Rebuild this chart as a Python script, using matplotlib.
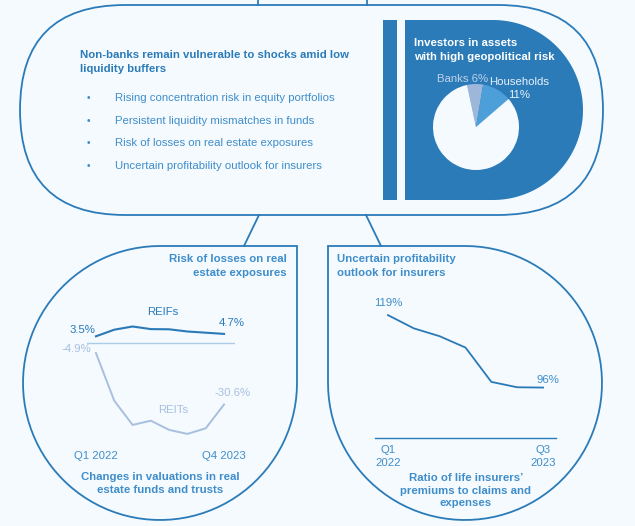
import numpy as np
import matplotlib.pyplot as plt
from matplotlib.patches import FancyBboxPatch, Polygon, Rectangle

plt.rcParams["font.family"] = ["Liberation Sans", "DejaVu Sans"]

W, H, DPI = 635, 526, 100

BG = "#f4fafe"
BLUE = "#2b7bb9"
TEXT = "#3f8dca"
LIGHT = "#a8bfdf"
ZERO = "#a9cce8"
FS = 8.2

# --- data -----------------------------------------------------------------
title_main = "Non-banks remain vulnerable to shocks amid low\nliquidity buffers"
bullets = [
    "Rising concentration risk in equity portfolios",
    "Persistent liquidity mismatches in funds",
    "Risk of losses on real estate exposures",
    "Uncertain profitability outlook for insurers",
]

pie_labels = ["Banks", "Households", "Non-banks"]
pie_shares = [6, 11, 83]
pie_colors = ["#9db7da", "#4c9fd9", "#f4fafe"]

re_quarters = ["Q1 2022", "Q2 2022", "Q3 2022", "Q4 2022",
               "Q1 2023", "Q2 2023", "Q3 2023", "Q4 2023"]
reifs = [3.5, 6.8, 8.4, 7.1, 7.0, 5.9, 5.3, 4.7]
reits = [-4.9, -28.7, -40.8, -38.7, -43.3, -45.3, -42.5, -30.6]

ins_quarters = ["Q1\n2022", "Q2\n2022", "Q3\n2022", "Q4\n2022",
                "Q1\n2023", "Q2\n2023", "Q3\n2023"]
premium_ratio = [119, 114.8, 112.3, 108.7, 97.8, 96.1, 96.0]

fig = plt.figure(figsize=(W / DPI, H / DPI), dpi=DPI, facecolor=BG)
bg = fig.add_axes([0, 0, 1, 1])
bg.set_xlim(0, W)
bg.set_ylim(H, 0)
bg.axis("off")


def px_axes(x0, y0, x1, y1):
    """Axes placed by pixel box (top-down pixel coords)."""
    ax = fig.add_axes([x0 / W, 1 - y1 / H, (x1 - x0) / W, (y1 - y0) / H])
    ax.patch.set_alpha(0)
    return ax


def arc(cx, cy, r, a0, a1, n=80):
    t = np.radians(np.linspace(a0, a1, n))
    return np.column_stack([cx + r * np.cos(t), cy + r * np.sin(t)])


# --- outlines ---------------------------------------------------------------
lw = 1.3
bg.add_patch(FancyBboxPatch((20, 5), 583, 210, boxstyle="round,pad=0,rounding_size=105",
                            fc="none", ec=BLUE, lw=lw))
for x in (258, 367):
    bg.plot([x, x], [0, 5], color=BLUE, lw=lw)
bg.plot([259, 244], [215, 246], color=BLUE, lw=lw)
bg.plot([366, 381], [215, 246], color=BLUE, lw=lw)

left_shape = np.vstack([[[160, 246], [297, 246]], arc(160, 383, 137, 0, 270)])
bg.add_patch(Polygon(left_shape, closed=True, fc="none", ec=BLUE, lw=lw))
right_shape = np.vstack([[[328, 246]], arc(465, 383, 137, 270, 540), [[328, 246]]])
bg.add_patch(Polygon(right_shape, closed=True, fc="none", ec=BLUE, lw=lw))

# dark panel
bg.add_patch(Rectangle((383, 20), 14, 180, fc=BLUE, ec="none"))
d_shape = np.vstack([[[405, 20]], arc(493, 110, 90, -90, 90), [[405, 200]]])
bg.add_patch(Polygon(d_shape, closed=True, fc=BLUE, ec="none"))

# --- top text ----------------------------------------------------------------
bg.text(80, 62.5, title_main, color=BLUE, fontsize=FS, fontweight="bold",
        va="center", ha="left", linespacing=1.5)
for i, b in enumerate(bullets):
    y = 98 + 22.6 * i
    bg.text(87, y, "\u2022", color=TEXT, fontsize=FS - 1, va="center", ha="left")
    bg.text(115, y, b, color=TEXT, fontsize=FS, va="center", ha="left")

bg.text(414, 50, "Investors in assets\nwith high geopolitical risk", color="white",
        fontsize=FS, fontweight="bold", va="center", ha="left", linespacing=1.45)

# --- pie -----------------------------------------------------------------------
pax = px_axes(433, 84, 519, 170)
pax.pie(pie_shares, colors=pie_colors, startangle=102, counterclock=False, radius=1)
pax.set_xlim(-1, 1)
pax.set_ylim(-1, 1)
pax.set_aspect("equal")
bg.text(463, 79, f"{pie_labels[0]} {pie_shares[0]}%", color="#bfd1ea", fontsize=FS,
        ha="center", va="center")
bg.text(519, 88.5, f"{pie_labels[1]}\n{pie_shares[1]}%", color="#e6f1fa", fontsize=FS,
        ha="center", va="center", linespacing=1.3)
bg.text(473, 148.5, f"{pie_labels[2]}\n{pie_shares[2]}%", color="#5b9ad0", fontsize=FS,
        ha="center", va="center", linespacing=1.3)

# --- real estate chart ----------------------------------------------------------
bg.text(287, 266, "Risk of losses on real\nestate exposures", color=TEXT, fontsize=FS,
        fontweight="bold", ha="right", va="center", linespacing=1.4)
ax1 = px_axes(87, 323.3, 235, 443.3)
x1 = np.arange(len(re_quarters))
ax1.axhline(0, color=ZERO, lw=1.0)
ax1.plot(x1, reifs, color="#2a7ab8", lw=1.5)
ax1.plot(x1, reits, color=LIGHT, lw=1.4)
ax1.set_xlim(-0.49, 7.6)
ax1.set_ylim(-50, 10)
ax1.axis("off")
ax1.annotate(f"{reifs[0]}%", (0, reifs[0]), xytext=(-14, 6), textcoords="offset pixels",
             color="#2a7ab8", fontsize=FS, ha="center", va="center")
ax1.annotate(f"{reifs[-1]}%", (7, reifs[-1]), xytext=(8, 10.5), textcoords="offset pixels",
             color="#2a7ab8", fontsize=FS, ha="center", va="center")
ax1.annotate(f"{reits[0]}%", (0, reits[0]), xytext=(-20, 4), textcoords="offset pixels",
             color=LIGHT, fontsize=FS, ha="center", va="center")
ax1.annotate(f"{reits[-1]}%", (7, reits[-1]), xytext=(9, 11), textcoords="offset pixels",
             color=LIGHT, fontsize=FS, ha="center", va="center")
ax1.text(3.66, 15.6, "REIFs", color="#2a7ab8", fontsize=FS, ha="center", va="center")
ax1.text(4.23, -33.3, "REITs", color=LIGHT, fontsize=FS, ha="center", va="center")
for i in (0, len(re_quarters) - 1):
    ax1.annotate(re_quarters[i], (i, 0), xycoords=("data", "axes fraction"),
                 xytext=(0, -12.4), textcoords="offset pixels",
                 color=TEXT, fontsize=FS, ha="center", va="center")
bg.text(160, 483.5, "Changes in valuations in real\nestate funds and trusts", color=TEXT,
        fontsize=FS, fontweight="bold", ha="center", va="center", linespacing=1.35)

# --- insurers chart ---------------------------------------------------------------
bg.text(337, 266, "Uncertain profitability\noutlook for insurers", color=TEXT, fontsize=FS,
        fontweight="bold", ha="left", va="center", linespacing=1.4)
ax2 = px_axes(375, 296.2, 556, 438)
x2 = np.arange(len(ins_quarters))
ax2.plot(x2, premium_ratio, color="#2a7ab8", lw=1.3)
ax2.set_xlim(-0.5, 6.5)
ax2.set_ylim(80, 125)
for s in ("top", "left", "right"):
    ax2.spines[s].set_visible(False)
ax2.spines["bottom"].set_color(BLUE)
ax2.spines["bottom"].set_linewidth(1.0)
ax2.set_xticks([])
ax2.set_yticks([])
ax2.annotate(f"{premium_ratio[0]:.0f}%", (0, premium_ratio[0]), xytext=(0, 12),
             textcoords="offset pixels", color=TEXT, fontsize=FS, ha="center", va="center")
ax2.annotate(f"{premium_ratio[-1]:.0f}%", (6, premium_ratio[-1]), xytext=(5, 8),
             textcoords="offset pixels", color=TEXT, fontsize=FS, ha="center", va="center")
for i in (0, len(ins_quarters) - 1):
    ax2.annotate(ins_quarters[i], (i, 0), xycoords=("data", "axes fraction"),
                 xytext=(0, -18.3), textcoords="offset pixels",
                 color=TEXT, fontsize=FS, ha="center", va="center", linespacing=1.3)
bg.text(466, 490.5, "Ratio of life insurers\u2019\npremiums to claims and\nexpenses", color=TEXT,
        fontsize=FS, fontweight="bold", ha="center", va="center", linespacing=1.35)

fig.savefig("out.png", dpi=DPI, facecolor=BG)
